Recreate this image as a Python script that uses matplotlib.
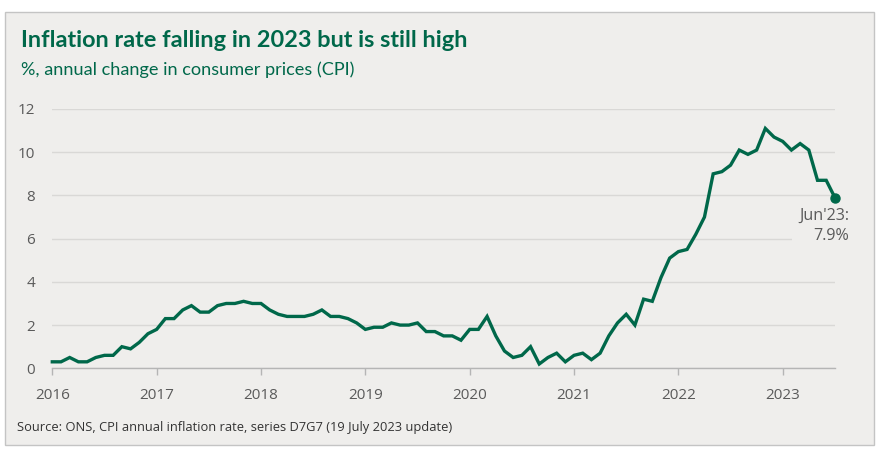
import matplotlib
matplotlib.use("Agg")
import matplotlib.pyplot as plt
from matplotlib.patches import Rectangle
import numpy as np

# Monthly values as plotted, starting Jan 2016
values_2016 = [0.3, 0.3, 0.5, 0.3, 0.3, 0.5, 0.6, 0.6, 1.0, 0.9, 1.2, 1.6]
values_2017 = [1.8, 2.3, 2.3, 2.7, 2.9, 2.6, 2.6, 2.9, 3.0, 3.0, 3.1, 3.0]
values_2018 = [3.0, 2.7, 2.5, 2.4, 2.4, 2.4, 2.5, 2.7, 2.4, 2.4, 2.3, 2.1]
values_2019 = [1.8, 1.9, 1.9, 2.1, 2.0, 2.0, 2.1, 1.7, 1.7, 1.5, 1.5, 1.3]
values_2020 = [1.8, 1.8, 2.4, 1.5, 0.8, 0.5, 0.6, 1.0, 0.2, 0.5, 0.7, 0.3]
values_2021 = [0.6, 0.7, 0.4, 0.7, 1.5, 2.1, 2.5, 2.0, 3.2, 3.1, 4.2, 5.1]
values_2022 = [5.4, 5.5, 6.2, 7.0, 9.0, 9.1, 9.4, 10.1, 9.9, 10.1, 11.1, 10.7]
values_2023 = [10.5, 10.1, 10.4, 10.1, 8.7, 8.7, 7.9]

year_ticks = [2016, 2017, 2018, 2019, 2020, 2021, 2022, 2023]
y_ticks = [0, 2, 4, 6, 8, 10, 12]

title = "Inflation rate falling in 2023 but is still high"
subtitle = "%, annual change in consumer prices (CPI)"
source = "Source: ONS, CPI annual inflation rate, series D7G7 (19 July 2023 update)"
end_label = "Jun'23:\n7.9%"

values = (values_2016 + values_2017 + values_2018 + values_2019 +
          values_2020 + values_2021 + values_2022 + values_2023)
x = 2016 + np.arange(len(values)) / 12.0

GREEN = "#00684a"
BG = "#efeeec"
GRID = "#d9d8d6"
GREY = "#5a5a5a"

W, H = 894, 457
fig = plt.figure(figsize=(W / 100, H / 100), dpi=100)
fig.patch.set_facecolor("white")

# outer panel
panel = Rectangle((4.5 / W, 1 - 445 / H), (873.5 - 4.5) / W, (445 - 11.5) / H,
                  transform=fig.transFigure, facecolor=BG,
                  edgecolor="#c4c4c4", linewidth=1.0, zorder=-10)
fig.patches.append(panel)

left, right = 52.3 / W, 834.9 / W
bottom, top = 1 - 368.3 / H, 1 - 109 / H
ax = fig.add_axes([left, bottom, right - left, top - bottom])
ax.set_zorder(1)
ax.patch.set_alpha(0)

ax.set_xlim(2016, 2023.5)
ax.set_ylim(0, 12)
ax.set_yticks(y_ticks)
ax.set_xticks(year_ticks)
ax.set_xticklabels([str(v) for v in year_ticks])
ax.grid(axis="y", color=GRID, linewidth=1.0)
ax.set_axisbelow(True)
for s in ["top", "right", "left"]:
    ax.spines[s].set_visible(False)
ax.spines["bottom"].set_color("#b5b5b5")
ax.spines["bottom"].set_linewidth(1.0)
ax.tick_params(axis="y", length=0, pad=12.5, labelsize=11, labelcolor=GREY)
ax.tick_params(axis="x", length=5, width=1, color="#b5b5b5", pad=9.5,
               labelsize=11, labelcolor=GREY)
for lab in ax.get_xticklabels() + ax.get_yticklabels():
    lab.set_family("Open Sans")

ax.plot(x, values, color=GREEN, linewidth=2.4, solid_joinstyle="miter",
        clip_on=False, zorder=6)
ax.plot(x[-1], values[-1], "o", color=GREEN, markersize=6.5, clip_on=False, zorder=7)

ax.annotate(end_label, (x[-1], values[-1]), xytext=(-7.5, -7.5), textcoords="offset points",
            ha="center", va="top", fontsize=11.6, color=GREY, family="Open Sans",
            linespacing=1.3, multialignment="right",
            bbox=dict(boxstyle="square,pad=0.45", facecolor=BG, edgecolor="none"),
            annotation_clip=False, zorder=5)

fig.text(21 / W, 1 - 47 / H, title, fontsize=16.9, fontweight="bold", color=GREEN,
         family="Lato", va="baseline")
fig.text(21 / W, 1 - 75 / H, subtitle, fontsize=13.1, color=GREEN,
         family="Lato", va="baseline")
fig.text(17 / W, 1 - 431 / H, source, fontsize=9.3, color="#333333",
         family="Open Sans", va="baseline")

fig.savefig("out.png", dpi=100, facecolor="white")
